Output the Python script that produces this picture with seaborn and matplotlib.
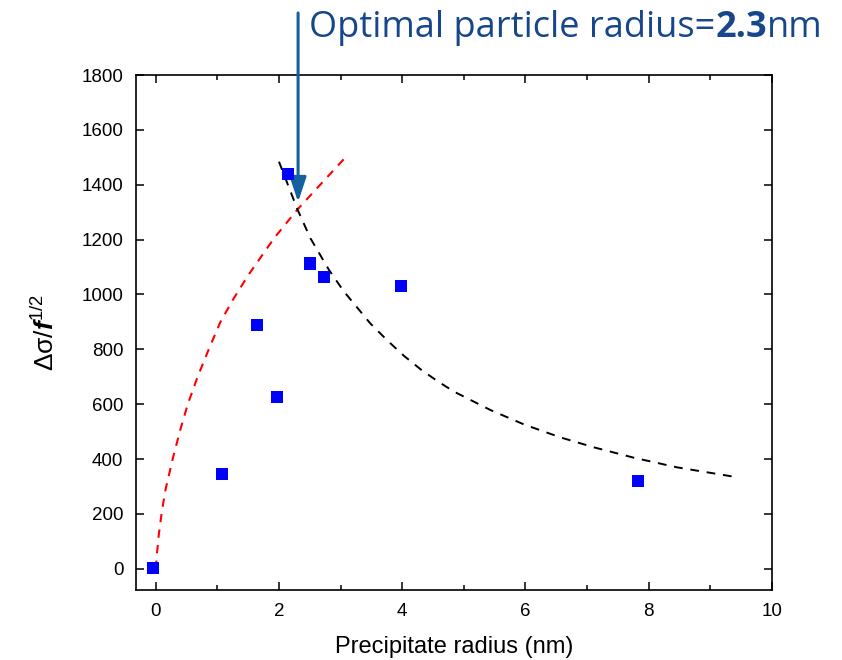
import matplotlib
matplotlib.use("Agg")
import matplotlib.pyplot as plt
import matplotlib.transforms as mtransforms
from matplotlib.ticker import MultipleLocator
import numpy as np
import pandas as pd
import seaborn as sns

# ---- data ----
pts_x = [-0.05, 1.08, 1.65, 1.97, 2.14, 2.51, 2.73, 3.98, 7.82]
pts_y = [3, 345, 890, 628, 1440, 1113, 1064, 1031, 320]

red_x = [0.0, 0.02, 0.05, 0.10, 0.16, 0.28, 0.40, 0.52, 0.68, 0.86, 1.05, 1.25,
         1.50, 1.92, 2.30, 2.73, 3.08]
red_y = [0, 55, 125, 210, 290, 405, 508, 600, 700, 800, 900, 980,
         1070, 1205, 1310, 1415, 1500]

black_x = [2.0, 2.30, 2.51, 2.81, 3.05, 3.48, 3.77, 4.03, 4.30, 4.58, 4.84, 5.44, 5.98,
           6.57, 7.11, 7.76, 8.46, 9.46]
black_y = [1484, 1310, 1205, 1090, 1012, 895, 830, 776, 727, 683, 646, 578, 526,
           479, 443, 405, 370, 333]

optimal_r = 2.31
optimal_y = 1337
title_parts = ["Optimal particle radius=", "2.3", "nm"]
xlabel = "Precipitate radius (nm)"

sns.set_style("ticks")
plt.rcParams["font.family"] = ["Liberation Sans", "DejaVu Sans"]
plt.rcParams["mathtext.fontset"] = "custom"
plt.rcParams["mathtext.rm"] = "Liberation Sans"
plt.rcParams["mathtext.it"] = "Liberation Sans:italic"
plt.rcParams["mathtext.bf"] = "Liberation Sans:bold:italic"
plt.rcParams["text.color"] = "black"
plt.rcParams["axes.labelcolor"] = "black"
plt.rcParams["xtick.color"] = "black"
plt.rcParams["ytick.color"] = "black"
plt.rcParams["axes.edgecolor"] = "black"

fig = plt.figure(figsize=(8.42, 6.6), dpi=100)
ax = fig.add_axes([136/842, 1-590/660, (772-136)/842, (590-75)/660])

df_pts = pd.DataFrame({"x": pts_x, "y": pts_y})
df_red = pd.DataFrame({"x": red_x, "y": red_y})
df_black = pd.DataFrame({"x": black_x, "y": black_y})

sns.lineplot(data=df_red, x="x", y="y", ax=ax, color="#ff0000", lw=1.5,
             sort=False, estimator=None, dashes=False)
ax.lines[-1].set_dashes((4, 3.5))
sns.lineplot(data=df_black, x="x", y="y", ax=ax, color="black", lw=1.4,
             sort=False, estimator=None, dashes=False)
ax.lines[-1].set_dashes((4.5, 4))
sns.scatterplot(data=df_pts, x="x", y="y", ax=ax, marker="s", s=75,
                color="#0000ff", edgecolor="none", zorder=5)

ax.set_xlim(-0.32, 10)
ax.set_ylim(-77, 1800)
ax.xaxis.set_major_locator(MultipleLocator(2))
ax.xaxis.set_minor_locator(MultipleLocator(1))
ax.yaxis.set_major_locator(MultipleLocator(200))
ax.tick_params(which="both", direction="in", top=True, right=True, width=1.1,
               labelsize=13.5, pad=9, colors="black")
ax.tick_params(which="major", length=6)
ax.tick_params(which="minor", length=3.5)
for s in ax.spines.values():
    s.set_linewidth(1.2)
    s.set_color("black")
    s.set_visible(True)

ax.set_xlabel(xlabel, fontsize=17, labelpad=12)
ax.set_ylabel(r"$\mathrm{\Delta\sigma/}\mathbf{f}^{\mathrm{1/2}}$", fontsize=19, labelpad=16)

# arrow
trans = mtransforms.blended_transform_factory(ax.transData, fig.transFigure)
ax.annotate("", xy=(optimal_r, optimal_y), xytext=(optimal_r, 1-13/660),
            textcoords=trans, annotation_clip=False,
            arrowprops=dict(arrowstyle="-|>,head_length=0.75,head_width=0.25",
                            color="#1560a0", lw=2.2,
                            mutation_scale=20, shrinkA=0, shrinkB=0))

# title pieces
fig.canvas.draw()
renderer = fig.canvas.get_renderer()
x0 = 309/842
ybase = 1-37/660
weights = ["normal", "bold", "normal"]
for part, w in zip(title_parts, weights):
    t = fig.text(x0, ybase, part, fontsize=26, color="#17468a", fontweight=w,
                 family=["Open Sans", "DejaVu Sans"], va="baseline", ha="left")
    bb = t.get_window_extent(renderer=renderer)
    x0 += bb.width / fig.bbox.width

fig.savefig("out.png", dpi=100)
